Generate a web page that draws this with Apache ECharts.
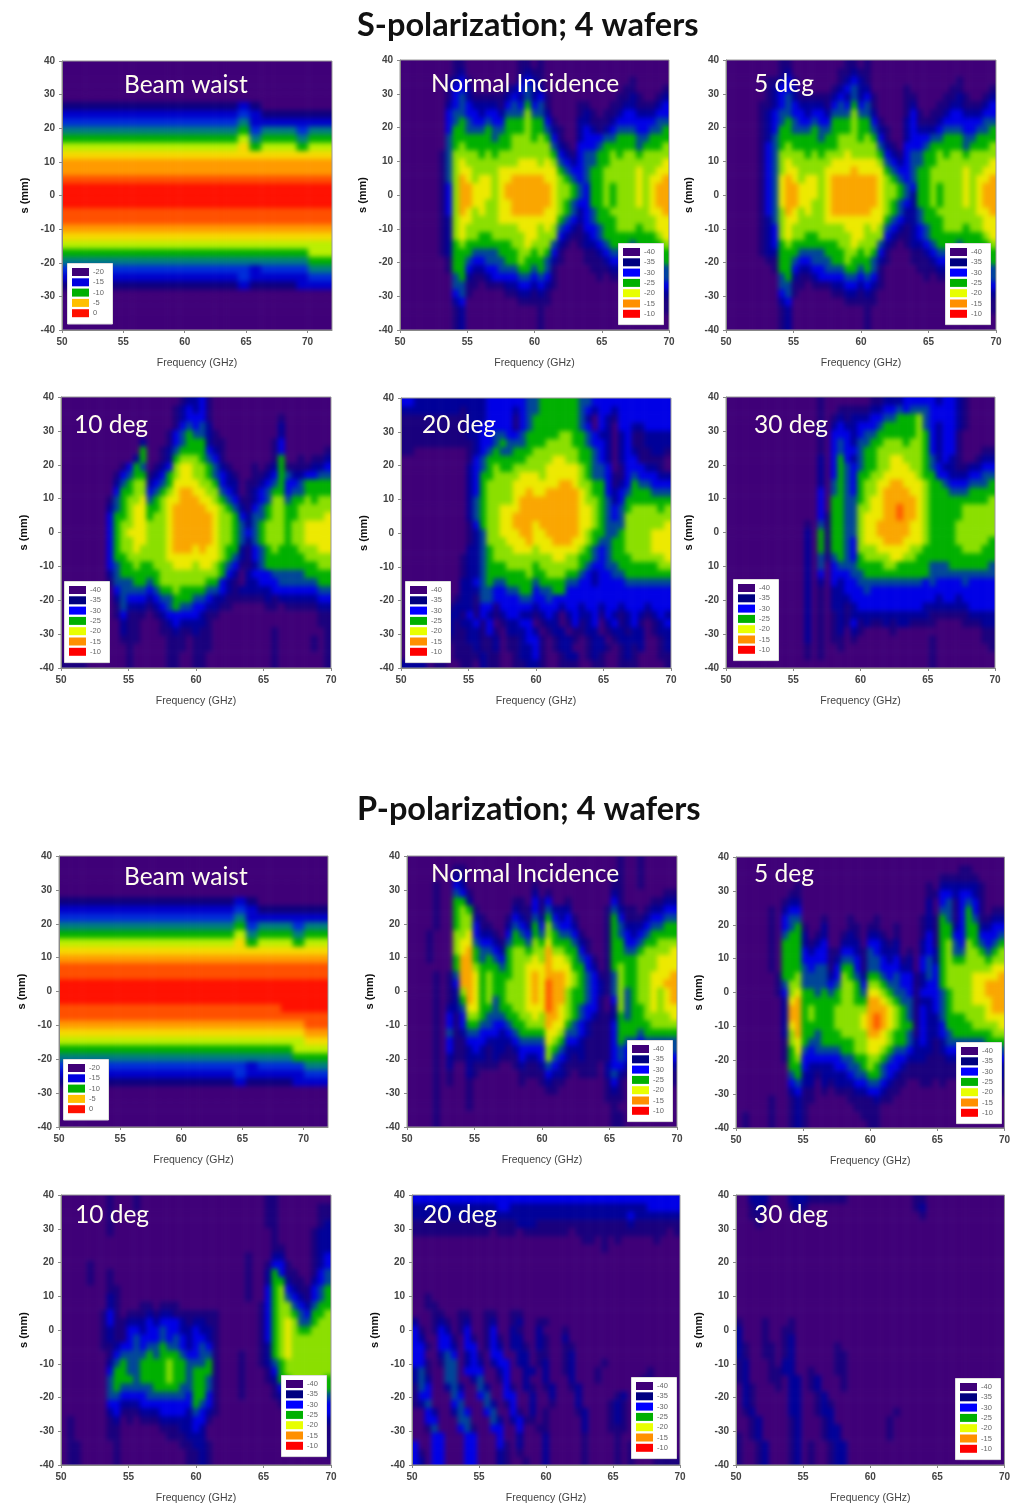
<!DOCTYPE html>
<html><head><meta charset="utf-8">
<script src="https://cdn.jsdelivr.net/npm/echarts@6/dist/echarts.min.js"></script>
<style>html,body{margin:0;padding:0;background:#fff}#c{width:1013px;height:1506px}</style>
</head><body><div id="c"></div>
<script>
// Each row runs from y=+40 mm (first) to y=-40 mm (last) in 2.5 mm steps.
// Each character is a read level: band panels 0..9 => -40 + 3*level dB;
// beam panels 0..a => -20 + 2*level dB, with columns at 1 GHz.
const sBeam = [
"00000000000000000000000","00000000000000000000000","00000000000000000000000","00000000000000000000000","00000000000000000000000",
"11111111111111121000000",
"22222222222222232111111",
"33333333333333342222222",
"44444444444444453444344",
"55555555555555564555455",
"66666666666666675666566",
"77777777777777777777777",
"88888888888888888888888",
"88888888888888888888888",
"99999999999999999999999",
"aaaaaaaaaaaaaaaaaaaaaaa",
"aaaaaaaaaaaaaaaaaaaaaaa",
"aaaaaaaaaaaaaaaaaaaaaaa",
"99999999999999999999999",
"99999999999999999999999",
"88888888888888888888888",
"77777777777777777777777",
"66666666666666666666666",
"55555555555555555555566",
"44444444444444444444455",
"33333333333333332333344",
"22222222222222232222233",
"11111111111111121111222",
"00000000000000000000000","00000000000000000000000","00000000000000000000000","00000000000000000000000","00000000000000000000000"];
const pBeam = [
"00000000000000000000000","00000000000000000000000","00000000000000000000000","00000000000000000000000","00000000000000000000000",
"11111111111111121000000",
"22222222222222232111111",
"33333333333333342222222",
"44444444444444453444344",
"55555555555555564555455",
"66666666666666675666566",
"77777777777777777777777",
"88888888888888888888888",
"99999999999999999999999",
"99999999999999999999999",
"aaaaaaaaaaaaaaaaaaaaaaa",
"aaaaaaaaaaaaaaaaaaaaaaa",
"aaaaaaaaaaaaaaaaaaaaaaa",
"9999999999999999999aaaa",
"99999999999999999999999",
"88888888888888888888899",
"77777777777777777777788",
"66666666666666666666677",
"55555555555555555555666",
"44444444444444444444555",
"33333333333333332333344",
"22222222222222232222233",
"11111111111111121111222",
"00000000000000000000000","00000000000000000000000","00000000000000000000000","00000000000000000000000","00000000000000000000000"];
const sNormal = [
"0000000011 0000000011 0100000000 00000000000",
"0000000012 0000000012 1100000000 00000000000",
"0000000123 1000000023 2100000000 00000100000",
"0000000133 2000001234 2200000000 00001100001",
"0000000134 2111112324 2310000000 00011210012",
"0000000234 3222213435 3410000110 00112211123",
"0000000344 3323324446 4420000121 01123322233",
"0000000345 4334335556 5531000221 11233333344",
"0000000355 4445445556 5542100232 12344433445",
"0000000455 5555455666 5653100233 34455544555",
"0000000456 5555555666 6664210333 45555545556",
"0000001466 6656566666 6665321344 55656656666",
"0000001467 6666666677 7676432344 55666666667",
"0000001467 7666677777 7777543345 56666676677",
"0000001468 7677677888 8877654345 56666676778",
"0000001368 8777678888 8887665435 56566676788",
"0000001368 8777678888 8887665435 56566676788",
"0000001368 8776677888 8887654335 56566676788",
"0000001368 7676677888 8877654234 55666666778",
"0000001267 7666677777 7777543234 55566666677",
"0000001267 6666666677 7676432133 45566656677",
"0000001267 6655666667 7666321123 45555555567",
"0000001256 5555555667 6664210122 34555455556",
"0000001255 5444455566 5653100011 23444344455",
"0000000155 4334445565 5542100011 12333333345",
"0000000155 3223344455 4541000001 11222232334",
"0000000045 2112333344 3431000000 10111121234",
"0000000044 1101112233 2321000000 00000010123",
"0000000034 1000001122 1210000000 00000000012",
"0000000023 0000000011 1110000000 00000000011",
"0000000012 0000000000 0100000000 00000000001",
"0000000012 0000000000 0100000000 00000000000",
"0000000012 0000000000 0100000000 00000000000"];
const sFive = [
"0000000011 0000000011 0100000000 00000000000",
"0000000012 0000000112 1100000000 00000000000",
"0000001123 1000000123 2100000000 00000100000",
"0000001233 2000001234 2200000100 00001100001",
"0000001234 2111112324 2310000110 00011210012",
"0000011234 3222213435 3410000120 00112211123",
"0000012344 3323324446 4420000131 01123322233",
"0000012345 4334335556 5531000231 11233333344",
"0000012355 4445445556 5542100232 22344433445",
"0000012455 5555455666 5653100233 34455544555",
"0000013456 5555555666 6664210333 45555545556",
"0000013466 6656566676 6665321344 55656656666",
"0000013467 6666667777 7776432344 55666666667",
"0000013467 7666677778 7777543345 56666676677",
"0000013478 7677678888 8887654345 56666676778",
"0000013478 8777678888 8887665435 56566676788",
"0000013478 8777678888 8887665425 56566676788",
"0000013478 8776678888 8887654325 56566676788",
"0000013468 7676678888 8877654224 55666666778",
"0000012467 7666677777 7777543224 55566666677",
"0000012367 6666666677 7676432123 45566656677",
"0000012367 6655666667 7666321123 45555555567",
"0000012356 5555555667 6664210122 34555455556",
"0000012255 5444455566 5653100011 23444344455",
"0000001155 4334445565 5542100011 12333333345",
"0000000155 3223344455 4541000001 11222232334",
"0000000045 2112333344 3431000000 10111121234",
"0000000044 1101112233 2321000000 00000010123",
"0000000034 1000001122 1210000000 00000000012",
"0000000023 0000000011 1110000000 00000000011",
"0000000012 0000000000 0100000000 00000000001",
"0000000012 0000000000 0100000000 00000000000",
"0000000012 0000000000 0100000000 00000000000"];
const sTen = [
"0000000000 0000000012 2310000000 00000000000",
"0000000000 0000000123 2310000000 00000000000",
"0000000000 0000000123 3310000000 00010000000",
"0000000000 0000000134 3420000000 00020000000",
"0000000000 0000001345 4421000000 00020000000",
"0000000000 0020001345 5521100000 00130000000",
"0000000000 0050012455 5532100000 00130000001",
"0000000000 0250012566 6543100000 00150010112",
"0000000001 3540123677 6654210001 01251111223",
"0000000013 4551235677 6654321001 12354223344",
"0000000024 5662345777 7665322011 23453345555",
"0000000035 5663456788 7766432012 34553445555",
"0000000145 6674567788 8776543112 34664556566",
"0000000245 6775567888 8877654213 45665566666",
"0000000355 6775667888 8887665324 45665566667",
"0000000356 6776667888 8887665424 56665667777",
"0000000356 7776667888 8887665434 56665667777",
"0000000356 6776667888 8887665424 56665667777",
"0000000356 6766667888 7877655213 45655566677",
"0000000355 6666667777 7777654213 45555556666",
"0000000345 5655666777 6776543112 45555555566",
"0000000245 5555566666 6666532023 33444445555",
"0000000144 4554566666 6655321022 33344444455",
"0000000034 4443455655 5544321222 22333333344",
"0000000024 3332344555 4432211111 12122222233",
"0000000014 2221234544 3322110000 01101111122",
"0000000013 1110123333 3211000000 00000000011",
"0000000002 1100012322 2210000000 00000000011",
"0000000002 1100011211 2110000000 00100000001",
"0000000001 1100001110 1110000000 00100000101",
"0000000000 1000001110 1110000000 00100000101",
"0000000000 1000001100 1100000000 00100000001",
"1111000000 1000001100 1100000000 00100000001"];
const sTwenty = [
"3322222222 2223333334 4555555443 33333333333",
"2222222221 2223333234 4555555432 33233333333",
"1111111111 2223333134 5555555420 32133333333",
"1111111111 2233333134 5555555430 32033223333",
"1111111111 2233443345 5555665543 22023112222",
"1111111111 1233454445 5566665543 32023112222",
"1100000000 1234544555 6666666554 32023211221",
"0000000000 1345555556 6667766554 32023311110",
"0000000000 2345655666 6677777654 43013332210",
"0000000000 2355666677 7677777654 43113433322",
"0000000000 2356666777 7777887665 53123544333",
"0000000000 2356666778 7788888765 53234555444",
"0000000000 2456666788 8888888766 54235555555",
"0000000000 2456677788 8888888776 54345666656",
"0000000000 2456677888 8888888776 54346666666",
"0000000000 1356677888 7888888776 54446666667",
"0000000000 1246677788 7788888765 54456666777",
"0000000000 1246667778 7778887765 44556666777",
"0000000000 2245666777 6777777654 34556666777",
"0000000001 2245666666 6667766554 34555666667",
"0000000001 2245556666 5666666543 34455555566",
"0000000001 2245555556 5566655432 33445555555",
"0000000002 2345445555 4555544332 33334444444",
"0000000002 2244334455 3445533333 33333333333",
"0000000012 2144333344 3343333333 33333333333",
"0000000122 2133133333 2333233233 23323332333",
"0000001221 3132123322 1232023223 13212321232",
"0000001212 2313012233 0122013123 02312310123",
"0000001211 2213102223 2012201122 01221220122",
"0000002111 2211201123 3101221012 20122220012",
"0000011011 1211201122 3101220012 21012120012",
"0000011011 1121100122 3100122012 10012100011",
"2222011001 1021100112 2100111001 10011100001"];
const sThirty = [
"0000000000 0000100000 0011222333 33233210000",
"0000000000 0000100111 1122334344 43333210000",
"0000000000 0000101212 2233445556 43333210000",
"0000000000 0000102322 3334555556 43233210000",
"0000000000 0000103332 3445555556 53233100000",
"0000000000 0000103432 4455666566 53233100000",
"0000000000 0000103433 4556666666 53233100011",
"0000000000 0000203532 4556677666 54232100122",
"0000000000 0000203543 4556677766 54322112233",
"0000000000 0000203543 5566777776 55332223344",
"0000000000 0000204543 5667788777 65543334445",
"0000000000 0000304543 5667888877 65554445555",
"0000000000 0000305544 5677888887 65555555556",
"0000000000 0000305544 6677889887 65555566666",
"0000000000 0000315544 6777889887 65555566666",
"0000000000 0010415544 6778888877 65555666666",
"0000000000 0020515544 6778888877 65555666666",
"0000000000 0020515543 6777888777 65555666665",
"0000000000 0020515543 6667777766 55555566655",
"0000000000 0020414543 5666677665 55555555555",
"0000000000 0020403444 5555665555 54445555554",
"0000000000 0020303334 4555555555 54444444444",
"0000000000 0020203233 4444444444 34333343333",
"0000000000 0020102233 3433333333 33333333333",
"0000000000 0020102223 3333333333 33233233333",
"0000000000 0020102212 3333333333 22222223333",
"0000000000 0020101212 2222222222 21111112222",
"0000000000 0020101213 1211212211 11000011122",
"0000000000 0020101202 1000010000 00000000011",
"0000000000 0020101101 0000000000 01000000011",
"0000000000 0010100100 0000000000 01000000001",
"0000000000 0010100000 0000000000 01000000000",
"0000000000 0000000000 0000000000 01000000000"];
const pNormal = [
"0000000000 0000000000 0000000000 00100100000",
"0000000110 0000000000 0000000000 00100100000",
"0000000210 0000000000 0000000000 01100100000",
"0000100320 0000000001 0000000000 01100100000",
"0000100431 0000000002 0100000000 02100000011",
"0000100552 0000001103 1300100000 03100001122",
"0000100565 1000002113 1422200000 14211012233",
"0000100566 2100013214 2532310000 15311123344",
"0000100566 3110024325 3643320000 15422234455",
"0001000667 3221035435 4654431000 15432345555",
"0001000677 4332145546 5755542100 15533455666",
"0001000678 5443256656 6866553100 15544566667",
"0001000588 5454356667 6877654310 15555666777",
"0000000588 6555456677 7877755320 15655666777",
"0000101488 7565556678 7888765431 14655667778",
"0000101388 7565566678 7988765432 14655667788",
"0000101268 7565566678 7988655432 14645667678",
"0000101258 7564566678 7988655431 03645667678",
"0000102247 7554556677 7987654331 02645567677",
"0000103136 6544455667 6887654321 12545566667",
"0000103135 5443345566 6877543211 13555556666",
"0000104124 4333234555 5776443211 13555455555",
"0000103113 3322223444 4765332111 13544344444",
"0000103112 3212212333 3654222111 13433333344",
"0000102112 2212111322 3643212111 13432222233",
"0000102002 1111001211 2432111110 23321121122",
"0000101002 1000000111 1322101110 24210110111",
"0000101001 0000000100 1211000000 13100000011",
"0000100001 0000000000 0110000000 12100000000",
"0000100001 0000000000 0000000000 11100000000",
"0000100001 0000000000 0000000000 01000000000",
"0000100000 0000000000 0000000000 01100000000",
"0000100000 0000000000 0000000000 01100000000"];
const pFive = [
"0000000000 0000000000 0000000000 00000000000",
"0000000000 0000000000 0000000000 00001100000",
"0000000000 0000000000 0000000000 01111110000",
"0000000001 0000000000 0000000001 02222221000",
"0000000011 0000000000 0000000001 13323321000",
"0000000122 0000000000 0000000002 03413431000",
"0000010233 0000000000 0000000002 04413531011",
"0000010344 0001000100 0100000012 15413541122",
"0000010345 1002000110 1100100012 15523552233",
"0000010455 2012001210 2210100013 15533553334",
"0000010555 2123002220 3321200023 15643654345",
"0000010555 3233113321 4322201023 25644665456",
"0000010555 3333124431 4432312034 25655666566",
"0000010555 4344135531 4433322034 35666666677",
"0000001556 4444236542 5543433124 35666677778",
"0000001466 4444346653 6654433123 35666677888",
"0000001367 5545456654 7765443133 34566677888",
"0000000278 5555556655 8876544122 34566677788",
"0000000288 5655566666 8887654132 34566666788",
"0000000288 5655566667 8987654132 24555666777",
"0000000278 5555566667 8987655132 23555566667",
"0000000268 5545556666 8876554132 23455555566",
"0000000167 5445555566 7776554232 12444444555",
"0000000157 4344445566 7765443222 12333344444",
"0000000156 3333334455 6654332221 11222233333",
"0000000055 3222233445 6543321111 11111222222",
"0000000045 2212222344 5543211111 11111111222",
"0000000034 2202122233 4432110011 01000111111",
"0000000023 1101011122 3321100000 00000000011",
"0000010012 1100000111 1211000000 00000000000",
"0000010012 1000000011 1100000000 00000000000",
"0100010012 1000000001 1100000000 00000000000",
"0100010012 1000000000 1100000000 00000000000"];
const pTen = [
"0000000100 0100000000 0000000000 01100000000",
"0000000100 0100000000 0000000000 01100000011",
"0000000100 0000000000 0000000000 01100000011",
"0000000100 0000000000 0000000000 01100000012",
"0000000100 0000000000 0000000000 00100000122",
"0000000000 0000000000 0000000000 00100000122",
"0000000000 0000000000 0000000000 00110000122",
"0000000000 0000000000 0000000010 00220000123",
"0000100000 0000000000 0000000010 01331000123",
"0000100100 0000000000 0000000010 02531100134",
"0000100100 0000000000 0000000010 02552110234",
"0000000110 0000000000 0000000010 03563211345",
"0000000210 0000000000 0000000010 03564321345",
"0000000210 0011011100 0000000000 13566432455",
"0000001310 1112122111 1111000000 13566543556",
"0000001311 2223233321 2211000000 13567644566",
"0000001211 3323343322 3221000000 13567655666",
"0000001211 3433343432 3321000000 13567666666",
"0000001123 3434454432 3431000000 12567666666",
"0000000134 4445455543 3441000100 12567666666",
"0000000245 4455556554 4451000100 12456666666",
"0000000355 4455556554 5551000100 01356666666",
"0000000455 5455556554 5541000100 01255666665",
"0000000454 4444555544 5541000100 00135566665",
"0000000443 3334444443 5531000100 00124565554",
"0000000332 2233333333 5431000000 00012443333",
"0000000231 1122233332 4321000000 00001112233",
"0100000120 1011122222 3310000000 00000011122",
"0100000110 0000011122 3200000000 00000000111",
"0100000110 0000001112 2200000000 00000000011",
"0110000010 0000000011 2210000000 00000000011",
"0110000010 0000000001 1210000000 00000000001",
"0110000010 0000000001 1210000000 00000000000"];
const pTwenty = [
"3333333333 3333333333 3333333333 33333333333",
"2222222222 2223322222 2222222222 22222233333",
"2221222222 2222222222 2222222222 22232222222",
"1111111111 1111112221 1111111111 11121111111",
"1111111111 1101110111 1111011111 11111111101",
"0000000000 0000000000 0000001101 01000001000",
"0000000000 0000000000 0000000001 00000000000",
"0000000000 0000000000 0000000000 00000000000",
"0000000000 0000000000 0000000000 00000000000",
"0000000000 0000000000 0000000000 00000000000",
"0000000000 0000000000 0000000000 00000000000",
"0000000000 0000000000 0000000000 00000000000",
"0010000000 0000000000 0000000000 00000000000",
"0011000000 0000000000 0000000000 00000000000",
"0001100110 0110011000 0000000000 00000000000",
"2001210120 0120012001 1000000000 00000000000",
"3101320130 0130021002 0001000000 00000000000",
"3200331031 0131022002 1002000000 00000000000",
"3310332033 0132022102 1001100000 00000000000",
"3300243023 1033002201 1001200000 00000000000",
"3310144023 2023302201 2001200001 00000000000",
"2410044033 3002300220 2001200010 00000010000",
"2420044002 4001300200 2000200010 00000110000",
"1430024200 4200310210 1200120000 00000110000",
"1330004300 3400330020 0200020000 01200010000",
"1240003400 0420130020 0100020000 12100010000",
"0032002430 0340031020 1000012000 12100000000",
"0033000440 0042023110 1000002000 12100000000",
"0014000341 0033003001 1000002000 11100000000",
"0003300033 0003002000 2000001000 01000000010",
"3003300033 0003102000 2000001000 01010000000",
"3103300033 0002101000 2000001000 01010000110",
"3203300033 0002100100 2000001000 01010001111"];
const pThirty = [
"0022200022 2111111000 0000000110 00000000000",
"0012100012 1000000000 0000000120 00000000000",
"0011000001 0000000000 0000000010 00000000000",
"0001000000 0000000000 0000000000 00000000000",
"0000000000 0000000000 0000000000 00000000000",
"0000000000 0000000000 0000000000 00000000000",
"0000000000 0000000000 0000000000 00000000000",
"0000000000 0000000000 0000000000 00000000000",
"0000000000 0000000000 0000000000 00000000000",
"0000000000 0000000000 0000000000 00000000000",
"0000000000 0000000000 0000000000 00000000000",
"0000000000 0000000000 0000000000 00000000000",
"0000000000 0000000000 0000000000 00000000000",
"0000000000 0000000000 0000000000 00000000000",
"0000000000 0000000000 0000000000 00000000000",
"1000100010 0000000000 0000000000 00000000000",
"2000100110 0000000000 0000000000 00000000000",
"2000100120 0000000000 0000000000 00000000000",
"2100110120 0000010000 0000000000 00000000000",
"2100110120 0000011000 0000000000 00000000000",
"1200010220 0000011000 0000000000 00000000000",
"1200011220 0100011000 0000000000 00000000000",
"1200011022 0120001000 0000000000 00000000000",
"0210001022 0120001000 0000000000 00000000000",
"0210000022 0012000000 0000000000 00000000000",
"0210000022 0012100000 0000000000 00000000000",
"0120000022 0012200000 0000100000 00000000000",
"0012000012 0001200000 0001000000 00000000000",
"0012000012 0001220000 0001000000 00000000000",
"1012000012 0001220000 0001000000 00000000000",
"1001200012 0100122000 0000000000 00000000000",
"1001200012 0100122000 0000000000 00000000000",
"1001200012 0100122000 0000000000 00000000000"];

const bandTicks = [-40,-35,-30,-25,-20,-15,-10];
const beamTicks = [-20,-15,-10,-5,0];
const bandColors = ['#3f0078','#000080','#0000ff','#00b000','#e8ff00','#ff9000','#ff0000'];
const beamRamp = ['#3f0078','#000080','#0000ff','#0070a0','#00b000','#e8ff00','#ffc000','#ff6000','#ff1000'];
const beamSwatch = ['#3f0078','#0000e0','#00b000','#ffc000','#ff1000'];

const panels = [
 {name:'Beam waist',rows:sBeam,beam:1,r:[62,61,332,330],lg:[67,263],tx:124,ty:88},
 {name:'Normal Incidence',rows:sNormal,r:[400,60,669,330],lg:[618,243],tx:431,ty:87},
 {name:'5 deg',rows:sFive,r:[726,60,996,330],lg:[945,243],tx:754,ty:87},
 {name:'10 deg',rows:sTen,r:[61,397,331,668],lg:[64,581],tx:74,ty:428},
 {name:'20 deg',rows:sTwenty,r:[401,398,671,668],lg:[405,581],tx:422,ty:428},
 {name:'30 deg',rows:sThirty,r:[726,397,995,668],lg:[733,579],tx:754,ty:428,typo:1},
 {name:'Beam waist',rows:pBeam,beam:1,r:[59,856,328,1127],lg:[63,1059],tx:124,ty:880},
 {name:'Normal Incidence',rows:pNormal,r:[407,856,677,1127],lg:[627,1040],tx:431,ty:877},
 {name:'5 deg',rows:pFive,r:[736,857,1005,1128],lg:[956,1042],tx:754,ty:877},
 {name:'10 deg',rows:pTen,r:[61,1195,331,1465],lg:[281,1375],tx:75,ty:1218},
 {name:'20 deg',rows:pTwenty,r:[412,1195,680,1465],lg:[631,1377],tx:423,ty:1218},
 {name:'30 deg',rows:pThirty,r:[736,1195,1005,1465],lg:[955,1378],tx:754,ty:1218}
];

const tickFont = {color:'#444',fontSize:10,fontWeight:'bold',fontFamily:'Liberation Sans'};
const grids=[],xAxes=[],yAxes=[],series=[],graphic=[];
const bandIdx=[],beamIdx=[];
let clip='';
panels.forEach((p,i)=>{
  const [x0,y0,x1,y1]=p.r, W=x1-x0, H=y1-y0;
  const rows=p.rows.map(r=>r.replace(/ /g,''));
  const nRows=rows.length, nCols=p.beam?23:41;
  const cw=W/nCols, ch=H/nRows;
  clip+=`M${x0} ${y0}H${x1}V${y1}H${x0}Z`;
  // heat grid: one clamped band wider on every side so the soft edge stays outside the plot area
  grids.push({left:x0-cw,top:y0-ch,width:W+2*cw,height:H+2*ch,show:false});
  grids.push({left:x0,top:y0,width:W,height:H,show:true,borderColor:'#999',borderWidth:1,backgroundColor:'transparent',zlevel:1});
  xAxes.push({type:'category',gridIndex:2*i,show:false,data:[...Array(nCols+2).keys()].map(String)});
  xAxes.push({type:'value',gridIndex:2*i+1,min:50,max:p.beam?72:70,interval:5,position:'bottom',zlevel:1,
    name:'Frequency (GHz)',nameLocation:'middle',nameGap:28,
    nameTextStyle:{color:'#444',fontSize:10.5,fontFamily:'Liberation Sans'},
    axisLine:{onZero:false,lineStyle:{color:'#888'}},axisTick:{length:3,lineStyle:{color:'#888'}},
    splitLine:{show:false},axisLabel:{...tickFont,margin:7,showMaxLabel:!p.beam}});
  yAxes.push({type:'category',gridIndex:2*i,show:false,data:[...Array(nRows+2).keys()].map(String)});
  yAxes.push({type:'value',gridIndex:2*i+1,min:-40,max:40,interval:10,position:'left',zlevel:1,
    name:'s (mm)',nameLocation:'middle',nameGap:32,nameRotate:90,
    nameTextStyle:{color:'#111',fontSize:11,fontWeight:'bold',fontFamily:'Liberation Sans'},
    axisLine:{onZero:false,lineStyle:{color:'#888'}},axisTick:{length:3,lineStyle:{color:'#888'}},
    splitLine:{show:false},
    axisLabel:{...tickFont,margin:7,formatter:v=>p.typo&&v===-10?'10':String(v)}});
  const data=[];
  for(let yi=0;yi<nRows+2;yi++){
    const ri=Math.min(nRows-1,Math.max(0,nRows-yi));
    const row=rows[ri];
    for(let c=0;c<nCols+2;c++){
      const lv=parseInt(row[Math.min(row.length-1,Math.max(0,c-1))],36);
      data.push([c,yi,p.beam?-20+2*lv:-40+3*lv]);
    }
  }
  series.push({type:'heatmap',xAxisIndex:2*i,yAxisIndex:2*i,data,progressive:0,animation:false,silent:true,zlevel:0});
  (p.beam?beamIdx:bandIdx).push(i);
  const ticks=p.beam?beamTicks:bandTicks, cols=p.beam?beamSwatch:bandColors;
  const h=ticks.length*10.3+9;
  graphic.push({type:'rect',zlevel:1,left:p.lg[0],top:p.lg[1],z:20,shape:{width:45,height:h},style:{fill:'#fff',stroke:'#ddd'}});
  ticks.forEach((t,k)=>{
    graphic.push({type:'rect',zlevel:1,left:p.lg[0]+5,top:p.lg[1]+5+k*10.3,z:21,shape:{width:17,height:8},style:{fill:cols[k]}});
    graphic.push({type:'text',zlevel:1,left:p.lg[0]+26,top:p.lg[1]+5+k*10.3,z:21,style:{text:String(t),fill:'#666',font:'7.5px "Liberation Sans"'}});
  });
  graphic.push({type:'text',zlevel:1,left:p.tx,top:p.ty-15,z:22,style:{text:p.name,fill:'#fffdf0',font:'24.5px Lato',shadowColor:'rgba(10,10,60,.9)',shadowBlur:4}});
});
[['S-polarization; 4 wafers',29],['P-polarization; 4 wafers',813]].forEach(([t,y])=>{
  graphic.push({type:'text',zlevel:1,left:357,top:y-20,z:22,style:{text:t,fill:'#111',font:'bold 32.5px Lato',shadowColor:'rgba(0,0,0,.45)',shadowBlur:3,shadowOffsetX:1,shadowOffsetY:1}});
});
const chart=echarts.init(document.getElementById('c'),null,{renderer:'canvas'});
chart.setOption({animation:false,grid:grids,xAxis:xAxes,yAxis:yAxes,series,graphic,
  visualMap:[
   {show:false,type:'continuous',dimension:2,seriesIndex:bandIdx,min:-40,max:-10,inRange:{color:bandColors}},
   {show:false,type:'continuous',dimension:2,seriesIndex:beamIdx,min:-20,max:0,inRange:{color:beamRamp}}
  ]});
function soften(){
  document.querySelectorAll('#c canvas').forEach(cv=>{
    if(cv.getAttribute('data-zr-dom-id')==='zr_0'){cv.style.filter='blur(2.6px)';cv.style.clipPath=`path('${clip}')`;}
    else cv.style.filter='blur(.5px)';
  });
}
soften();
chart.on('finished',soften);
</script></body></html>
